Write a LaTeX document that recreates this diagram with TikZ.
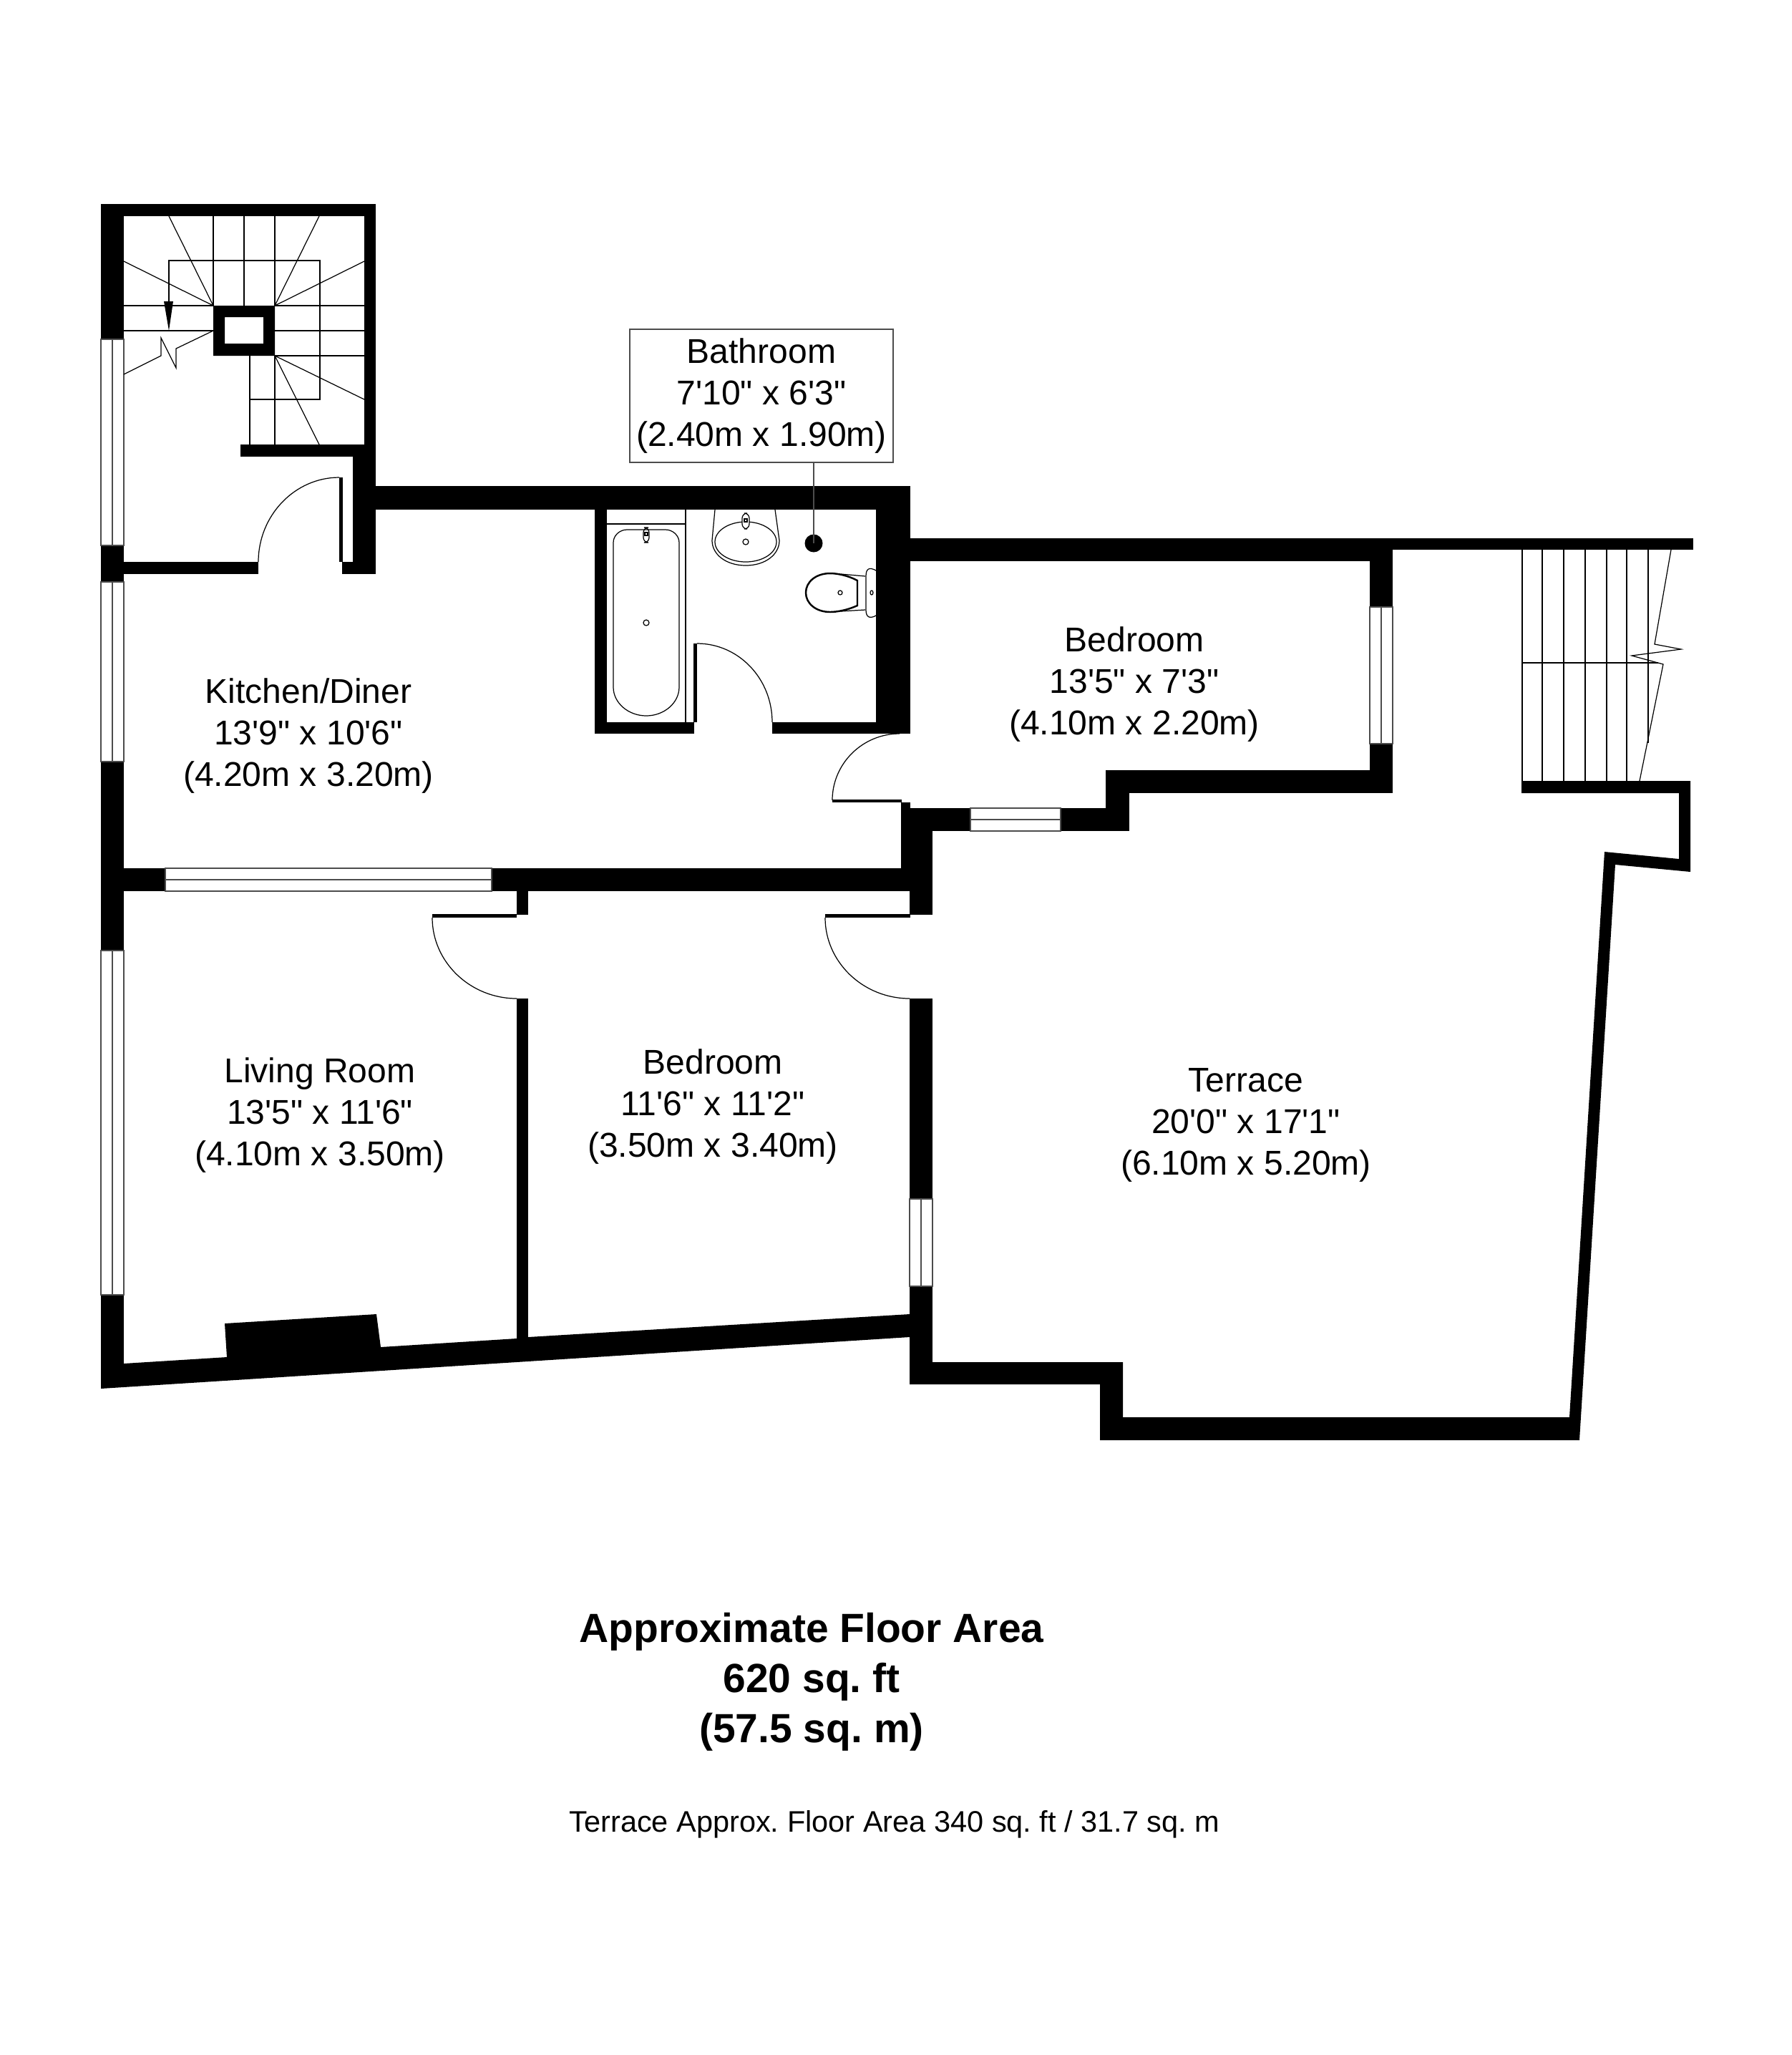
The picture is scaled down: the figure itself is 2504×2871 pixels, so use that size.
\documentclass[tikz,border=0pt]{standalone}
\usepackage{fontspec}
\setmainfont{Liberation Sans}
\newcommand{\ft}{\textquotesingle}
\newcommand{\inch}{\textquotedbl}
\tikzset{
    wall/.style={fill=black},
    fixture/.style={draw=black, line width=0.35pt},
    winframe/.style={draw=black!70, line width=0.35pt, fill=white},
    roomlabel/.style={align=center, inner sep=0pt, font=\fontsize{13.66}{16.5}\selectfont},
    arealabel/.style={align=center, inner sep=0pt, font=\frenchspacing\fontsize{16.2}{19.9}\bfseries\selectfont},
    notelabel/.style={inner sep=0pt, font=\frenchspacing\fontsize{11.8}{14}\selectfont}
}
\begin{document}
\begin{tikzpicture}[x=0.01cm, y=-0.01cm]
    \useasboundingbox (0,0) rectangle (2504,2871);
    \foreach \xa/\ya/\xb/\yb in {141/285/525/302, 141/285/173/474, 509/285/525/638, 336/621/525/638,
        493/621/525/802, 478/785/525/802, 141/785/361/802, 141/762/173/813, 141/1064/173/1328,
        141/1809/173/1938, 474/667/479/785, 525/679/1272/712, 831/712/848/1025, 831/1009/970/1025,
        1079/1009/1272/1025, 1224/712/1272/1025, 969/899/974/1009, 1272/752/1946/784, 1914/752/1946/848,
        1914/1039/1946/1108, 1545/1076/1946/1108, 1545/1076/1578/1161, 1482/1129/1578/1161,
        1259/1121/1272/1129, 1163/1117/1260/1121, 1259/1129/1356/1161, 1259/1129/1303/1245,
        141/1213/231/1245, 687/1213/1303/1245, 1271/1245/1303/1278, 1153/1277/1272/1282,
        722/1245/738/1278, 604/1277/722/1282, 722/1395/738/1885, 1271/1395/1303/1675,
        1271/1797/1303/1934, 1946/752/2366/768}
        \fill[wall] (\xa,\ya) rectangle (\xb,\yb);
    \fill[wall] (141,1940) -- (1271,1868) -- (1271,1836) -- (738,1868) -- (722,1870) -- (532,1882)
        -- (526,1836) -- (314,1849) -- (317,1896) -- (173,1905) -- (141,1905) -- cycle;
    \fill[wall] (1271,1903) -- (1569,1903) -- (1569,1980) -- (2193,1980) -- (2242,1190) -- (2346,1200)
        -- (2346,1108) -- (2126,1108) -- (2126,1091) -- (2362,1091) -- (2362,1218) -- (2257,1208)
        -- (2207,2012) -- (1537,2012) -- (1537,1934) -- (1271,1934) -- cycle;
    \foreach \xa/\xm/\xb/\ya/\yb in {141/157/173/474/762, 141/157/173/813/1064, 141/157/173/1328/1809,
        1271/1287/1303/1675/1797, 1914/1930/1946/848/1039} {
        \draw[winframe] (\xa,\ya) rectangle (\xb,\yb);
        \draw[winframe] (\xm,\ya) -- (\xm,\yb);
    }
    \foreach \xa/\xb/\ya/\ym/\yb in {231/687/1213/1229/1245, 1356/1482/1129/1145/1161} {
        \draw[winframe] (\xa,\ya) rectangle (\xb,\yb);
        \draw[winframe] (\xa,\ym) -- (\xb,\ym);
    }
    \draw[fixture] (361,785) .. controls (361,720) and (412,667) .. (474,667);
    \draw[fixture] (974,899) .. controls (1032,899) and (1079,948) .. (1079,1009);
    \draw[fixture] (1257,1025) .. controls (1205,1025) and (1163,1067) .. (1163,1118);
    \draw[fixture] (604,1282) .. controls (604,1344) and (657,1395) .. (722,1395);
    \draw[fixture] (1153,1282) .. controls (1153,1344) and (1206,1395) .. (1271,1395);
    \draw[fixture] (236,421) -- (236,364) -- (447,364) -- (447,558) -- (349,558);
    \draw[fixture] (349,497) -- (349,621);
    \foreach \x in {298,341,384} \draw[fixture] (\x,302) -- (\x,427);
    \draw[fixture] (384,497) -- (384,621);
    \foreach \y in {427,462} \draw[fixture] (173,\y) -- (298,\y);
    \foreach \y in {427,462,497} \draw[fixture] (384,\y) -- (509,\y);
    \draw[fixture] (236,302) -- (298,427) -- (173,365);
    \draw[fixture] (446,302) -- (384,427) -- (509,365);
    \draw[fixture] (446,621) -- (384,497) -- (509,558);
    \draw[fixture] (298,462) -- (246,487) -- (246,514) -- (225,472) -- (225,497) -- (173,523);
    \fill[wall] (229,421) -- (242,421) -- (236,462) -- cycle;
    \fill[wall, even odd rule] (298,427) rectangle (384,497) (314,443) rectangle (368,480);
    \foreach \x in {2127,2155,2185,2215,2245,2273} \draw[fixture] (\x,768) -- (\x,1091);
    \draw[fixture] (2303,768) -- (2303,1038);
    \draw[fixture] (2127,926) -- (2317,926);
    \draw[fixture] (2335,768) -- (2312,900) -- (2349,907) -- (2280,916) -- (2324,928) -- (2291,1091);
    \draw[fixture] (848,732) -- (958,732);
    \draw[fixture] (958,712) -- (958,1009);
    \draw[fixture] (857,758) .. controls (857,748) and (866,740) .. (876,740) -- (930,740)
        .. controls (940,740) and (949,748) .. (949,758) -- (949,960)
        .. controls (949,982) and (928,1000) .. (903,1000) .. controls (878,1000) and (857,982) .. (857,960) -- cycle;
    \draw[fixture] (903,870) circle (4);
    \draw[fixture, rounded corners=2pt] (899,737) rectangle (907,758);
    \draw[fixture] (901,744) rectangle (905,748);
    \draw[fixture] (999,712) -- (995,755) .. controls (995,775) and (1015,790) .. (1042,790)
        .. controls (1069,790) and (1089,775) .. (1089,755) -- (1083,712);
    \draw[fixture] (1042,757) ellipse (43 and 28);
    \draw[fixture] (1042,757) circle (4);
    \draw[fixture, fill=white, rounded corners=2pt] (1037,717) rectangle (1047,739);
    \draw[fixture] (1040,725) rectangle (1044,729);
    \draw[fixture, line width=0.7pt] (1198,811) .. controls (1185,804) and (1170,801) .. (1160,801)
        .. controls (1140,801) and (1126,813) .. (1126,828) .. controls (1126,843) and (1140,855) .. (1160,855)
        .. controls (1170,855) and (1185,852) .. (1198,846) -- cycle;
    \draw[fixture] (1175,802) -- (1209,805);
    \draw[fixture] (1175,854) -- (1209,852);
    \draw[fixture] (1224,797) .. controls (1215,792) and (1210,794) .. (1210,805) -- (1210,852)
        .. controls (1210,862) and (1215,865) .. (1224,860);
    \draw[fixture] (1174,828) circle (3);
    \draw[fixture] (1218,828) ellipse (2 and 3);
    \node[circle, fill=black, inner sep=0pt, minimum size=0.25cm] (soilpipe) at (1137,759) {};
    \node[roomlabel, draw=black!70, line width=0.35pt, minimum width=3.68cm, minimum height=1.86cm] (bathlabel) at (1064,553)
        {Bathroom\\7\ft10\inch{} x 6\ft3\inch\\(2.40m x 1.90m)};
    \draw[fixture, draw=black!70] (bathlabel.south -| soilpipe.center) -- (soilpipe.center);
    \node[roomlabel] (kitchenlabel) at (431,1028) {Kitchen/Diner\\13\ft9\inch{} x 10\ft6\inch\\(4.20m x 3.20m)};
    \node[roomlabel] (bedroomtop) at (1585,956) {Bedroom\\13\ft5\inch{} x 7\ft3\inch\\(4.10m x 2.20m)};
    \node[roomlabel] (livinglabel) at (447,1558) {Living Room\\13\ft5\inch{} x 11\ft6\inch\\(4.10m x 3.50m)};
    \node[roomlabel] (bedroomlow) at (996,1546) {Bedroom\\11\ft6\inch{} x 11\ft2\inch\\(3.50m x 3.40m)};
    \node[roomlabel] (terracelabel) at (1741,1572) {Terrace\\20\ft0\inch{} x 17\ft1\inch\\(6.10m x 5.20m)};
    \node[arealabel] (arealabel) at (1134,2350) {Approximate Floor Area\\620 sq. ft\\(57.5 sq. m)};
    \node[notelabel] (terracenote) at (1250,2549) {Terrace Approx. Floor Area 340 sq. ft / 31.7 sq. m};
\end{tikzpicture}
\end{document}
